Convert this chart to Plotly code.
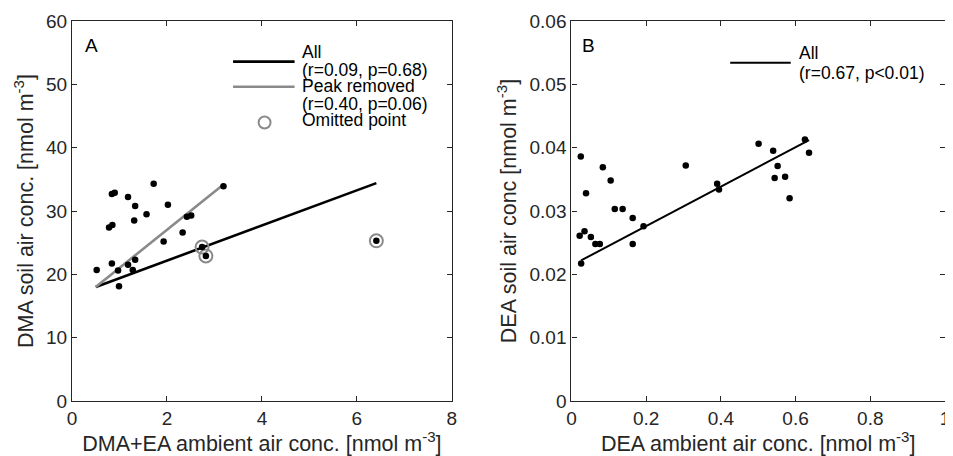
import plotly.graph_objects as go

# ---------------- Data ----------------
# Panel A: DMA+EA ambient vs DMA soil air
a_x = [0.52, 0.84, 0.90, 0.78, 0.85, 0.84, 0.99, 0.97, 1.18, 1.33, 1.31, 1.18,
       1.33, 1.28, 1.72, 1.57, 2.02, 1.93, 2.33, 2.42, 2.51, 2.74, 2.82, 3.19, 6.41]
a_y = [20.7, 32.7, 32.9, 27.4, 27.8, 21.7, 18.1, 20.6, 32.2, 30.8, 28.5, 21.5,
       22.3, 20.7, 34.3, 29.5, 31.0, 25.2, 26.6, 29.1, 29.3, 24.3, 22.9, 33.9, 25.3]
omit_x = [2.74, 2.82, 6.41]
omit_y = [24.3, 22.9, 25.3]
all_fit_x = [0.50, 6.41]
all_fit_y = [18.0, 34.4]
peak_fit_x = [0.50, 3.19]
peak_fit_y = [18.0, 34.2]

# Panel B: DEA ambient vs DEA soil air
b_x = [0.025, 0.022, 0.035, 0.039, 0.052, 0.064, 0.076, 0.026, 0.084, 0.105,
       0.116, 0.137, 0.164, 0.164, 0.193, 0.306, 0.390, 0.395, 0.501, 0.540,
       0.552, 0.544, 0.572, 0.584, 0.625, 0.636]
b_y = [0.0386, 0.0261, 0.0268, 0.0328, 0.0259, 0.0248, 0.0248, 0.0217, 0.0369, 0.0348,
       0.0303, 0.0303, 0.0289, 0.0248, 0.0276, 0.0372, 0.0343, 0.0334, 0.0406, 0.0395,
       0.0371, 0.0352, 0.0354, 0.0320, 0.0413, 0.0392]
b_fit_x = [0.026, 0.636]
b_fit_y = [0.0222, 0.0412]

a_xticks = [0, 2, 4, 6, 8]
a_yticks = [0, 10, 20, 30, 40, 50, 60]
b_xticks = [0, 0.2, 0.4, 0.6, 0.8, 1]
b_yticks = [0, 0.01, 0.02, 0.03, 0.04, 0.05, 0.06]

legend_a = ["All", "(r=0.09, p=0.68)", "Peak removed", "(r=0.40, p=0.06)", "Omitted point"]
legend_b = ["All", "(r=0.67, p<0.01)"]

# ---------------- Styling ----------------
FONT = "Liberation Sans, Arial, Helvetica, sans-serif"
AX = "#262626"
GRAY = "#8a8a8a"

fig = go.Figure()

# Panel A
fig.add_trace(go.Scatter(x=all_fit_x, y=all_fit_y, mode="lines",
                         line=dict(color="black", width=2.6), showlegend=False,
                         xaxis="x", yaxis="y"))
fig.add_trace(go.Scatter(x=peak_fit_x, y=peak_fit_y, mode="lines",
                         line=dict(color=GRAY, width=2.6), showlegend=False,
                         xaxis="x", yaxis="y"))
fig.add_trace(go.Scatter(x=omit_x, y=omit_y, mode="markers",
                         marker=dict(symbol="circle-open", size=13, color=GRAY,
                                     line=dict(width=2, color=GRAY)),
                         showlegend=False, xaxis="x", yaxis="y"))
fig.add_trace(go.Scatter(x=a_x, y=a_y, mode="markers",
                         marker=dict(size=6.5, color="black"), showlegend=False,
                         xaxis="x", yaxis="y"))

# Panel B
fig.add_trace(go.Scatter(x=b_fit_x, y=b_fit_y, mode="lines",
                         line=dict(color="black", width=2), showlegend=False,
                         xaxis="x2", yaxis="y2"))
fig.add_trace(go.Scatter(x=b_x, y=b_y, mode="markers",
                         marker=dict(size=6.5, color="black"), showlegend=False,
                         xaxis="x2", yaxis="y2"))

axis_common = dict(showline=True, linecolor=AX, linewidth=1.3, mirror="allticks",
                   ticks="inside", ticklen=5, tickwidth=1.3, tickcolor=AX,
                   showgrid=False, zeroline=False,
                   tickfont=dict(family=FONT, size=19, color=AX),
                   title_font=dict(family=FONT, size=21.5, color=AX))

# The page adds an 8px body margin, so the figure is sized to fit the window.
fig.update_layout(
    width=945, height=448,
    margin=dict(l=64, r=3, t=12, b=55),
    paper_bgcolor="white", plot_bgcolor="white",
    font=dict(family=FONT, color=AX),
    xaxis=dict(domain=[0, 0.4351], range=[0, 8], tickvals=a_xticks,
               title=dict(text="DMA+EA ambient air conc. [nmol m<sup>-3</sup>]", standoff=2),
               anchor="y", **axis_common),
    yaxis=dict(domain=[0, 1], range=[0, 60], tickvals=a_yticks,
               title=dict(text="DMA soil air conc. [nmol m<sup>-3</sup>]", standoff=6),
               anchor="x", **axis_common),
    xaxis2=dict(domain=[0.5721, 1], range=[0, 1], tickvals=b_xticks,
                title=dict(text="DEA ambient air conc. [nmol m<sup>-3</sup>]", standoff=2),
                anchor="y2", **axis_common),
    yaxis2=dict(domain=[0, 1], range=[0, 0.06], tickvals=b_yticks,
                title=dict(text="DEA soil air conc [nmol m<sup>-3</sup>]", standoff=6),
                anchor="x2", **axis_common),
)

# Panel letters
fig.add_annotation(text="A", xref="x domain", yref="y domain", x=0.028, y=0.935,
                   xanchor="left", yanchor="middle", showarrow=False,
                   font=dict(family=FONT, size=19, color="black"))
fig.add_annotation(text="B", xref="x2 domain", yref="y2 domain", x=0.022, y=0.935,
                   xanchor="left", yanchor="middle", showarrow=False,
                   font=dict(family=FONT, size=19, color="black"))

# Legend A (drawn manually to match the compact layout)
leg_font = dict(family=FONT, size=17.5, color="black")
a_text_y = [0.919, 0.871, 0.828, 0.781, 0.739]
for t, yy in zip(legend_a, a_text_y):
    fig.add_annotation(text=t, xref="x domain", yref="y domain", x=0.599, y=yy,
                       xanchor="left", yanchor="middle", showarrow=False, font=leg_font)
fig.add_shape(type="line", xref="x domain", yref="y domain", x0=0.424, x1=0.586,
              y0=0.893, y1=0.893, line=dict(color="black", width=2.6))
fig.add_shape(type="line", xref="x domain", yref="y domain", x0=0.424, x1=0.586,
              y0=0.827, y1=0.827, line=dict(color=GRAY, width=2.6))
fig.add_shape(type="circle", xref="x domain", yref="y domain",
              x0=0.507 - 6 / 382, x1=0.507 + 6 / 382,
              y0=0.733 - 6 / 381, y1=0.733 + 6 / 381,
              line=dict(color=GRAY, width=2))

# Legend B
b_text_y = [0.915, 0.864]
for t, yy in zip(legend_b, b_text_y):
    fig.add_annotation(text=t, xref="x2 domain", yref="y2 domain", x=0.603, y=yy,
                       xanchor="left", yanchor="middle", showarrow=False, font=leg_font)
fig.add_shape(type="line", xref="x2 domain", yref="y2 domain", x0=0.425, x1=0.587,
              y0=0.89, y1=0.89, line=dict(color="black", width=2))

fig.write_html("out.html")
